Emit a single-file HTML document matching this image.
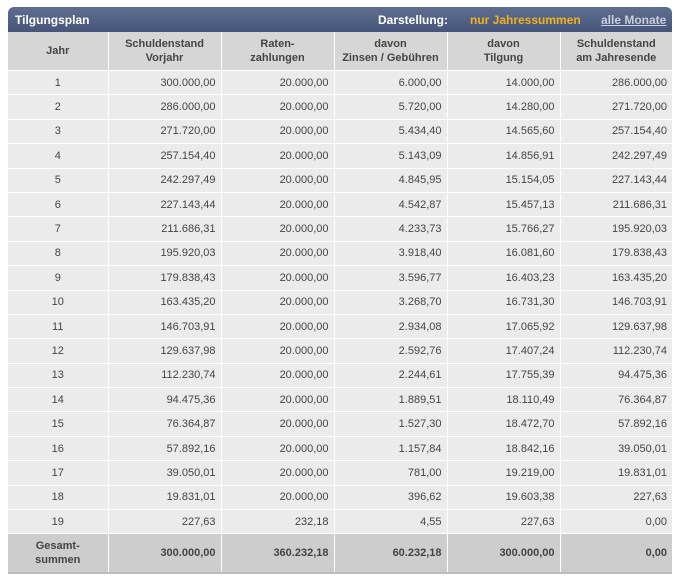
<!DOCTYPE html>
<html><head><meta charset="utf-8">
<style>
body{margin:0;background:#fff;font-family:"Liberation Sans",Arial,sans-serif;}
#wrap{position:absolute;left:8px;top:7px;width:664px;}
#title{height:25px;background:linear-gradient(#5f6f90,#46567a);border-radius:6px 6px 0 0;color:#fff;font-weight:bold;font-size:12px;position:relative;}
#title .t{position:absolute;left:7px;top:6px;}
#title .d{position:absolute;left:370px;top:6px;}
#title .j{position:absolute;left:462px;top:6px;color:#f3b21b;}
#title .m{position:absolute;left:593px;top:6px;color:#c8cedb;text-decoration:underline;}
table{border-collapse:collapse;width:664px;font-size:11px;color:#444;table-layout:fixed;}
th{background:#d6d6d6;height:38px;font-weight:bold;text-align:center;border-right:1px solid #fff;line-height:14px;padding:0;}
td{background:#ebebeb;height:23.4px;text-align:right;padding:0 5px 0 0;border-right:1px solid #fff;border-top:1px solid #fff;}
td:first-child{text-align:center;padding:0;}
th:last-child,td:last-child{border-right:none;}
tr.tot td{background:#cdcdcd;height:38px;font-weight:bold;line-height:14px;border-bottom:2px solid #bdbdbd;}
</style></head><body>
<div id="wrap">
<div id="title">
<span class="t">Tilgungsplan</span>
<span class="d">Darstellung:</span>
<span class="j">nur Jahressummen</span>
<span class="m">alle Monate</span>
</div>
<table>
<colgroup><col style="width:100px"><col style="width:113px"><col style="width:113px"><col style="width:113px"><col style="width:113px"><col style="width:112px"></colgroup>
<thead><tr>
<th>Jahr</th>
<th>Schuldenstand<br>Vorjahr</th>
<th>Raten-<br>zahlungen</th>
<th>davon<br>Zinsen / Gebühren</th>
<th>davon<br>Tilgung</th>
<th>Schuldenstand<br>am Jahresende</th>
</tr></thead>
<tbody id="tb"></tbody>
</table>
</div>
<script>
const years=[1,2,3,4,5,6,7,8,9,10,11,12,13,14,15,16,17,18,19];
const startBalance=["300.000,00","286.000,00","271.720,00","257.154,40","242.297,49","227.143,44","211.686,31","195.920,03","179.838,43","163.435,20","146.703,91","129.637,98","112.230,74","94.475,36","76.364,87","57.892,16","39.050,01","19.831,01","227,63"];
const payments=["20.000,00","20.000,00","20.000,00","20.000,00","20.000,00","20.000,00","20.000,00","20.000,00","20.000,00","20.000,00","20.000,00","20.000,00","20.000,00","20.000,00","20.000,00","20.000,00","20.000,00","20.000,00","232,18"];
const interest=["6.000,00","5.720,00","5.434,40","5.143,09","4.845,95","4.542,87","4.233,73","3.918,40","3.596,77","3.268,70","2.934,08","2.592,76","2.244,61","1.889,51","1.527,30","1.157,84","781,00","396,62","4,55"];
const principal=["14.000,00","14.280,00","14.565,60","14.856,91","15.154,05","15.457,13","15.766,27","16.081,60","16.403,23","16.731,30","17.065,92","17.407,24","17.755,39","18.110,49","18.472,70","18.842,16","19.219,00","19.603,38","227,63"];
const endBalance=["286.000,00","271.720,00","257.154,40","242.297,49","227.143,44","211.686,31","195.920,03","179.838,43","163.435,20","146.703,91","129.637,98","112.230,74","94.475,36","76.364,87","57.892,16","39.050,01","19.831,01","227,63","0,00"];
const totals=["300.000,00","360.232,18","60.232,18","300.000,00","0,00"];
const tb=document.getElementById('tb');
years.forEach((y,i)=>{
  const tr=document.createElement('tr');
  
  
  [y,startBalance[i],payments[i],interest[i],principal[i],endBalance[i]].forEach(v=>{
    const td=document.createElement('td');
    
    
    td.textContent=v;tr.appendChild(td);
  });
  tb.appendChild(tr);
});
const tr=document.createElement('tr');tr.className='tot';


const c0=document.createElement('td');c0.innerHTML='Gesamt-<br>summen';


tr.appendChild(c0);
totals.forEach(v=>{const td=document.createElement('td');


td.textContent=v;tr.appendChild(td);});
tb.appendChild(tr);
</script>
</body></html>
